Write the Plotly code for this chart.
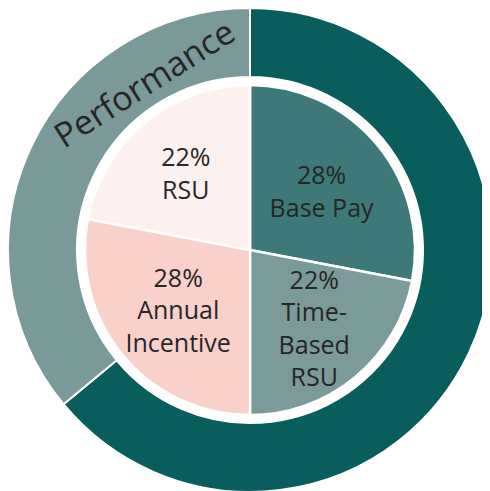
import math
import plotly.graph_objects as go

# Inner pie: pay components
inner_labels = ["Base Pay", "Time-<br>Based<br>RSU", "Annual<br>Incentive", "RSU"]
inner_values = [28, 22, 28, 22]
inner_colors = ["#3f7878", "#7b9a9a", "#f9d0ca", "#fdf1ef"]

# Outer ring: fixed vs performance-based
outer_labels = ["Fixed", "Performance"]
outer_values = [64, 36]
outer_colors = ["#0a5d5d", "#7a9a9a"]

W, H = 490, 491
PAGE_OFF = 8  # default body margin of the html page
ML, MT = 0, 0
PW = PH = 484
MR, MB = W - ML - PW, H - MT - PH
R_OUT = PW / 2
R_IN_PIE = 165
R_HOLE = 173

text_color = "#262626"
font_family = "Open Sans, Noto Sans, sans-serif"

inner_text = [f"{v}%<br>{l}" for v, l in zip(inner_values, inner_labels)]

fig = go.Figure()
fig.add_trace(go.Pie(
    labels=outer_labels, values=outer_values, sort=False, direction="clockwise",
    rotation=0, hole=R_HOLE / R_OUT,
    marker=dict(colors=outer_colors, line=dict(color="white", width=2)),
    textinfo="none", hoverinfo="skip", showlegend=False,
    domain=dict(x=[0, 1], y=[0, 1]),
))
f = R_IN_PIE / R_OUT
fig.add_trace(go.Pie(
    labels=[l.replace("<br>", " ") for l in inner_labels], values=inner_values,
    sort=False, direction="clockwise", rotation=0,
    marker=dict(colors=inner_colors, line=dict(color="white", width=2.5)),
    text=inner_text, texttemplate="%{text}", textposition="inside",
    insidetextorientation="horizontal",
    textfont=dict(family=font_family, size=25, color=text_color),
    hoverinfo="skip", showlegend=False,
    domain=dict(x=[0.5 - f / 2, 0.5 + f / 2], y=[0.5 - f / 2, 0.5 + f / 2]),
))

# "Performance" label on the outer ring
ang = 327.5
r_lab = 198
cx, cy = PAGE_OFF + ML + PW / 2, PAGE_OFF + MT + PH / 2
px = cx + r_lab * math.sin(math.radians(ang))
py = cy - r_lab * math.cos(math.radians(ang))
fig.add_annotation(
    x=(px - PAGE_OFF - ML) / PW, y=(H - MB - (py - PAGE_OFF)) / PH,
    xref="paper", yref="paper",
    text=outer_labels[1], showarrow=False, textangle=-(360 - ang),
    font=dict(family=font_family, size=34, color=text_color),
    xanchor="center", yanchor="middle",
)

fig.update_layout(
    width=W, height=H, margin=dict(l=ML, r=MR, t=MT, b=MB, autoexpand=False),
    paper_bgcolor="white", plot_bgcolor="white",
    uniformtext=dict(minsize=25, mode="show"),
)
fig.write_html("out.html")
